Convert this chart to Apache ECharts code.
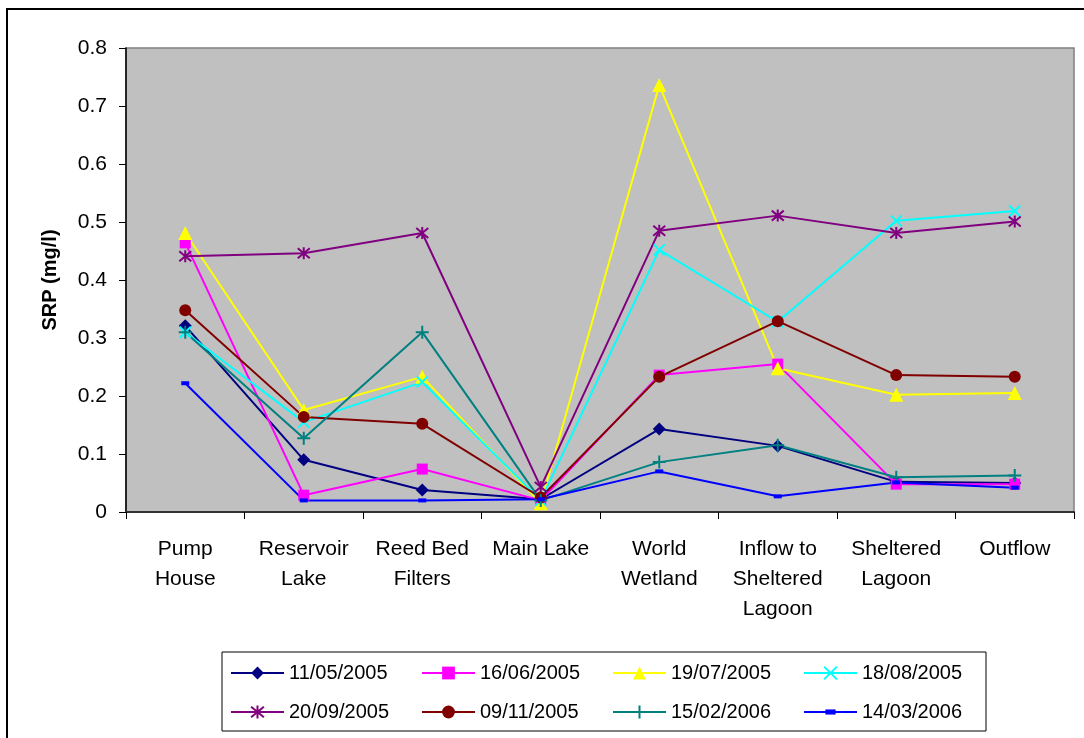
<!DOCTYPE html>
<html>
<head>
<meta charset="utf-8">
<script src="https://cdn.jsdelivr.net/npm/echarts@6/dist/echarts.min.js"></script>
<style>
html,body{margin:0;padding:0;background:#fff;}
#chart{width:1084px;height:738px;}
</style>
</head>
<body>
<div id="chart"></div>
<script>
const categories = ['Pump\nHouse', 'Reservoir\nLake', 'Reed Bed\nFilters', 'Main Lake', 'World\nWetland', 'Inflow to\nSheltered\nLagoon', 'Sheltered\nLagoon', 'Outflow'];
const yTicks = [0, 0.1, 0.2, 0.3, 0.4, 0.5, 0.6, 0.7, 0.8];

const s20050511 = [0.321, 0.090, 0.038, 0.022, 0.143, 0.114, 0.052, 0.050];
const s20050616 = [0.464, 0.029, 0.074, 0.020, 0.236, 0.255, 0.048, 0.048];
const s20050719 = [0.481, 0.176, 0.233, 0.015, 0.736, 0.248, 0.202, 0.205];
const s20050818 = [0.310, 0.155, 0.224, 0.020, 0.452, 0.328, 0.502, 0.519];
const s20050920 = [0.441, 0.446, 0.481, 0.043, 0.485, 0.511, 0.481, 0.501];
const s20051109 = [0.348, 0.164, 0.152, 0.025, 0.233, 0.329, 0.236, 0.233];
const s20060215 = [0.310, 0.127, 0.310, 0.020, 0.086, 0.115, 0.060, 0.063];
const s20060314 = [0.222, 0.020, 0.020, 0.022, 0.070, 0.027, 0.051, 0.042];

const seriesNames = ['11/05/2005', '16/06/2005', '19/07/2005', '18/08/2005', '20/09/2005', '09/11/2005', '15/02/2006', '14/03/2006'];
const seriesData = [s20050511, s20050616, s20050719, s20050818, s20050920, s20051109, s20060215, s20060314];
const seriesColors = ['#000080', '#FF00FF', '#FFFF00', '#00FFFF', '#800080', '#800000', '#008080', '#0000FF'];

const XPATH = 'path://M0,0L10,10M10,0L0,10';
const STARPATH = 'path://M0,0L10,10M10,0L0,10M5,-1L5,11';
const PLUSPATH = 'path://M5,0L5,10M0,5L10,5';
const DASHPATH = 'path://M0,0L0,0M10,10L10,10M1,3L9,3L9,7L1,7Z';
const markers = [
  {symbol: 'diamond', size: 13, stroke: false},
  {symbol: 'rect', size: 11, stroke: false},
  {symbol: 'triangle', size: 14, stroke: false},
  {symbol: XPATH, size: 11, stroke: true},
  {symbol: STARPATH, size: 12, stroke: true},
  {symbol: 'circle', size: 12, stroke: false},
  {symbol: PLUSPATH, size: 13, stroke: true},
  {symbol: DASHPATH, size: 10, stroke: false}
];

const FONT = "'Liberation Sans', Arial, sans-serif";

const series = seriesNames.map((name, i) => {
  const m = markers[i];
  const c = seriesColors[i];
  return {
    name: name,
    type: 'line',
    data: seriesData[i],
    symbol: m.symbol,
    symbolSize: m.size,
    showAllSymbol: true,
    lineStyle: {color: c, width: 2},
    itemStyle: m.stroke
      ? {color: c, borderColor: c, borderWidth: 2}
      : {color: c, borderWidth: 0},
    emphasis: {disabled: true},
    animation: false
  };
});

const chart = echarts.init(document.getElementById('chart'), null, {renderer: 'canvas'});
chart.setOption({
  animation: false,
  backgroundColor: '#ffffff',
  textStyle: {fontFamily: FONT},
  graphic: [{
    type: 'rect',
    shape: {x: 7, y: 9, width: 1100, height: 800},
    style: {fill: 'none', stroke: '#000', lineWidth: 2},
    silent: true
  }],
  grid: {
    left: 126, top: 48, width: 948, height: 464,
    show: true, backgroundColor: '#C0C0C0', borderColor: '#808080', borderWidth: 1.5
  },
  legend: {
    left: 222, top: 652, width: 753,
    padding: [8, 5, 6, 8],
    borderColor: '#000', borderWidth: 1,
    itemWidth: 53, itemHeight: 16, itemGap: 13,
    textStyle: {fontSize: 20, color: '#000', fontFamily: FONT, width: 119, lineHeight: 26},
    data: seriesNames
  },
  xAxis: {
    type: 'category',
    data: categories,
    boundaryGap: true,
    axisLine: {lineStyle: {color: '#333', width: 2}},
    axisTick: {show: true, length: 7, lineStyle: {color: '#000'}},
    axisLabel: {color: '#000', fontSize: 21, lineHeight: 30, margin: 22, interval: 0, fontFamily: FONT},
    splitLine: {show: false}
  },
  yAxis: {
    type: 'value',
    min: 0, max: 0.8, interval: 0.1,
    name: 'SRP (mg/l)',
    nameLocation: 'middle',
    nameGap: 66,
    nameTextStyle: {fontSize: 20, fontWeight: 'bold', color: '#000', fontFamily: FONT},
    axisLine: {show: true, lineStyle: {color: '#000', width: 1.5}},
    axisTick: {show: true, length: 7, lineStyle: {color: '#000'}},
    axisLabel: {color: '#000', fontSize: 21, margin: 19, fontFamily: FONT,
      formatter: v => { const t = yTicks.find(x => Math.abs(x - v) < 1e-9); return String(t !== undefined ? t : v); }},
    splitLine: {show: false}
  },
  series: series
});
</script>
</body>
</html>
